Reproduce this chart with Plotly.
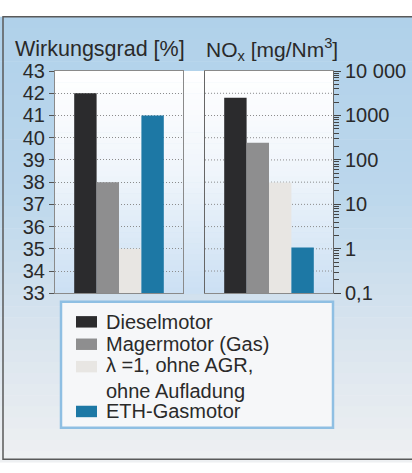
import plotly.graph_objects as go

# Daten
motoren = ["Dieselmotor", "Magermotor (Gas)", "λ =1, ohne AGR,<br>ohne Aufladung", "ETH-Gasmotor"]
wirkungsgrad = [42, 38, 35, 41]          # %
nox = [2500, 245, 31, 1.07]              # mg/Nm3
farben = ["#2b2b2d", "#8e8e8f", "#e8e6e3", "#1d78a5"]

nox_tickvals = [0.1, 1, 10, 100, 1000, 10000]
nox_ticktext = ["0,1", "1", "10", "100", "1000", "10 000"]

W, H = 412, 473
FONT = "Liberation Sans, Arial, sans-serif"
TXT = "#2a2a2a"
GRID_DASH = "1px,2px"


def px_x(x):
    return x / W


def px_y(y):
    return 1 - y / H


def mix(c1, c2, t):
    return "rgb(%d,%d,%d)" % tuple(round(a + (b - a) * t) for a, b in zip(c1, c2))


def verlauf(x0, x1, y0, y1, stops, n=40):
    """Senkrechter Farbverlauf aus schmalen Rechtecken (Pixelkoordinaten)."""
    out = []
    for i in range(n):
        t = (i + 0.5) / n
        for j in range(len(stops) - 1):
            if stops[j][0] <= t <= stops[j + 1][0]:
                tt = (t - stops[j][0]) / (stops[j + 1][0] - stops[j][0])
                col = mix(stops[j][1], stops[j + 1][1], tt)
                break
        ya = y0 + (y1 - y0) * i / n
        yb = y0 + (y1 - y0) * (i + 1) / n + 0.6
        out.append(dict(type="rect", xref="paper", yref="paper", layer="below",
                        x0=px_x(x0), x1=px_x(x1), y0=px_y(ya), y1=px_y(yb),
                        line=dict(width=0), fillcolor=col))
    return out


fig = go.Figure()

for name, wg, nx, col in zip(motoren, wirkungsgrad, nox, farben):
    fig.add_trace(go.Bar(x=[""], y=[wg], name=name, marker=dict(color=col, line=dict(width=0)),
                         xaxis="x", yaxis="y", showlegend=False))
    fig.add_trace(go.Bar(x=[""], y=[nx], name=name, marker=dict(color=col, line=dict(width=0)),
                         xaxis="x2", yaxis="y2", showlegend=False))

# Hintergründe
shapes = []
shapes += verlauf(0, 420, 6, 473, [(0, (176, 209, 234)), (0.4, (188, 215, 236)),
                                   (0.7, (216, 228, 238)), (1, (239, 240, 242))])
shapes += verlauf(55, 333, 63, 296, [(0, (255, 255, 255)), (0.45, (240, 245, 251)),
                                     (1, (203, 224, 243))])
# Rahmen
shapes.append(dict(type="rect", xref="paper", yref="paper", layer="below",
                   x0=px_x(3), x1=px_x(430), y0=px_y(6), y1=px_y(470),
                   line=dict(color="#5a5a5a", width=1.5), fillcolor="rgba(0,0,0,0)"))

# Gitterlinien rechts (halbe Dekaden, passend zum linken Raster)
for i in range(1, 10):
    shapes.append(dict(type="line", xref="x2 domain", yref="y2 domain", layer="below",
                       x0=0, x1=1, y0=i / 10, y1=i / 10,
                       line=dict(color="#8c8c8c", width=1, dash=GRID_DASH)))

# Legende (manuell)
shapes.append(dict(type="rect", xref="paper", yref="paper",
                   x0=px_x(61), x1=px_x(333), y0=px_y(305), y1=px_y(437),
                   line=dict(color="#8fbfe3", width=2.5), fillcolor="#f6f7f9"))
zeilen = [0, 1, 2, 4]
annotations = []
for name, col, z in zip(motoren, farben, zeilen):
    yc = 326 + 23.5 * z
    shapes.append(dict(type="rect", xref="paper", yref="paper",
                       x0=px_x(76), x1=px_x(97), y0=px_y(yc - 6), y1=px_y(yc + 6),
                       line=dict(width=0), fillcolor=col))
    n_lines = name.count("<br>") + 1
    annotations.append(dict(text=name, xref="paper", yref="paper", x=px_x(104),
                            y=px_y(yc + 23.5 * (n_lines - 1) / 2), xanchor="left", yanchor="middle",
                            align="left", showarrow=False, font=dict(size=20, color=TXT, family=FONT)))

annotations.append(dict(text="Wirkungsgrad [%]", xref="paper", yref="paper", x=px_x(13), y=px_y(40),
                        xanchor="left", yanchor="middle", showarrow=False,
                        font=dict(size=21.5, color=TXT, family=FONT)))
annotations.append(dict(text="NO<sub>x</sub> [mg/Nm<sup>3</sup>]", xref="paper", yref="paper",
                        x=px_x(204), y=px_y(40), xanchor="left", yanchor="middle", showarrow=False,
                        font=dict(size=21, color=TXT, family=FONT)))

minor_vals = [m * 10 ** k for k in range(-1, 4) for m in range(2, 10)]

fig.update_layout(
    width=W, height=H,
    margin=dict(l=0, r=0, t=0, b=0),
    paper_bgcolor="white", plot_bgcolor="rgba(0,0,0,0)",
    barmode="group", bargap=0.3, bargroupgap=0,
    showlegend=False,
    font=dict(family=FONT, color=TXT),
    shapes=shapes, annotations=annotations,
    xaxis=dict(domain=[px_x(55), px_x(183)], anchor="y", showticklabels=False, ticks="",
               showline=True, mirror=True, linecolor="#8a8a8a", linewidth=1, showgrid=False),
    yaxis=dict(domain=[px_y(296), px_y(63)], anchor="x", range=[33, 43], dtick=1,
               ticks="outside", ticklen=5, tickcolor="#555", tickfont=dict(size=20, color=TXT),
               showline=True, mirror=True, linecolor="#8a8a8a", linewidth=1,
               showgrid=True, gridcolor="#8c8c8c", griddash=GRID_DASH, gridwidth=1),
    xaxis2=dict(domain=[px_x(205), px_x(333)], anchor="y2", showticklabels=False, ticks="",
                showline=True, mirror=True, linecolor="#8a8a8a", linewidth=1, showgrid=False),
    yaxis2=dict(domain=[px_y(296), px_y(63)], anchor="x2", type="log", range=[-1, 4], side="right",
                tickmode="array", tickvals=nox_tickvals, ticktext=nox_ticktext,
                ticks="outside", ticklen=7, tickcolor="#444", tickfont=dict(size=20, color=TXT),
                minor=dict(tickmode="array", tickvals=minor_vals, ticks="outside", ticklen=5,
                           tickcolor="#444", showgrid=False),
                showline=True, mirror=True, linecolor="#666", linewidth=1, showgrid=False),
)

fig.write_html("out.html", config={"displayModeBar": False},
               post_script="document.body.style.margin='0';")
